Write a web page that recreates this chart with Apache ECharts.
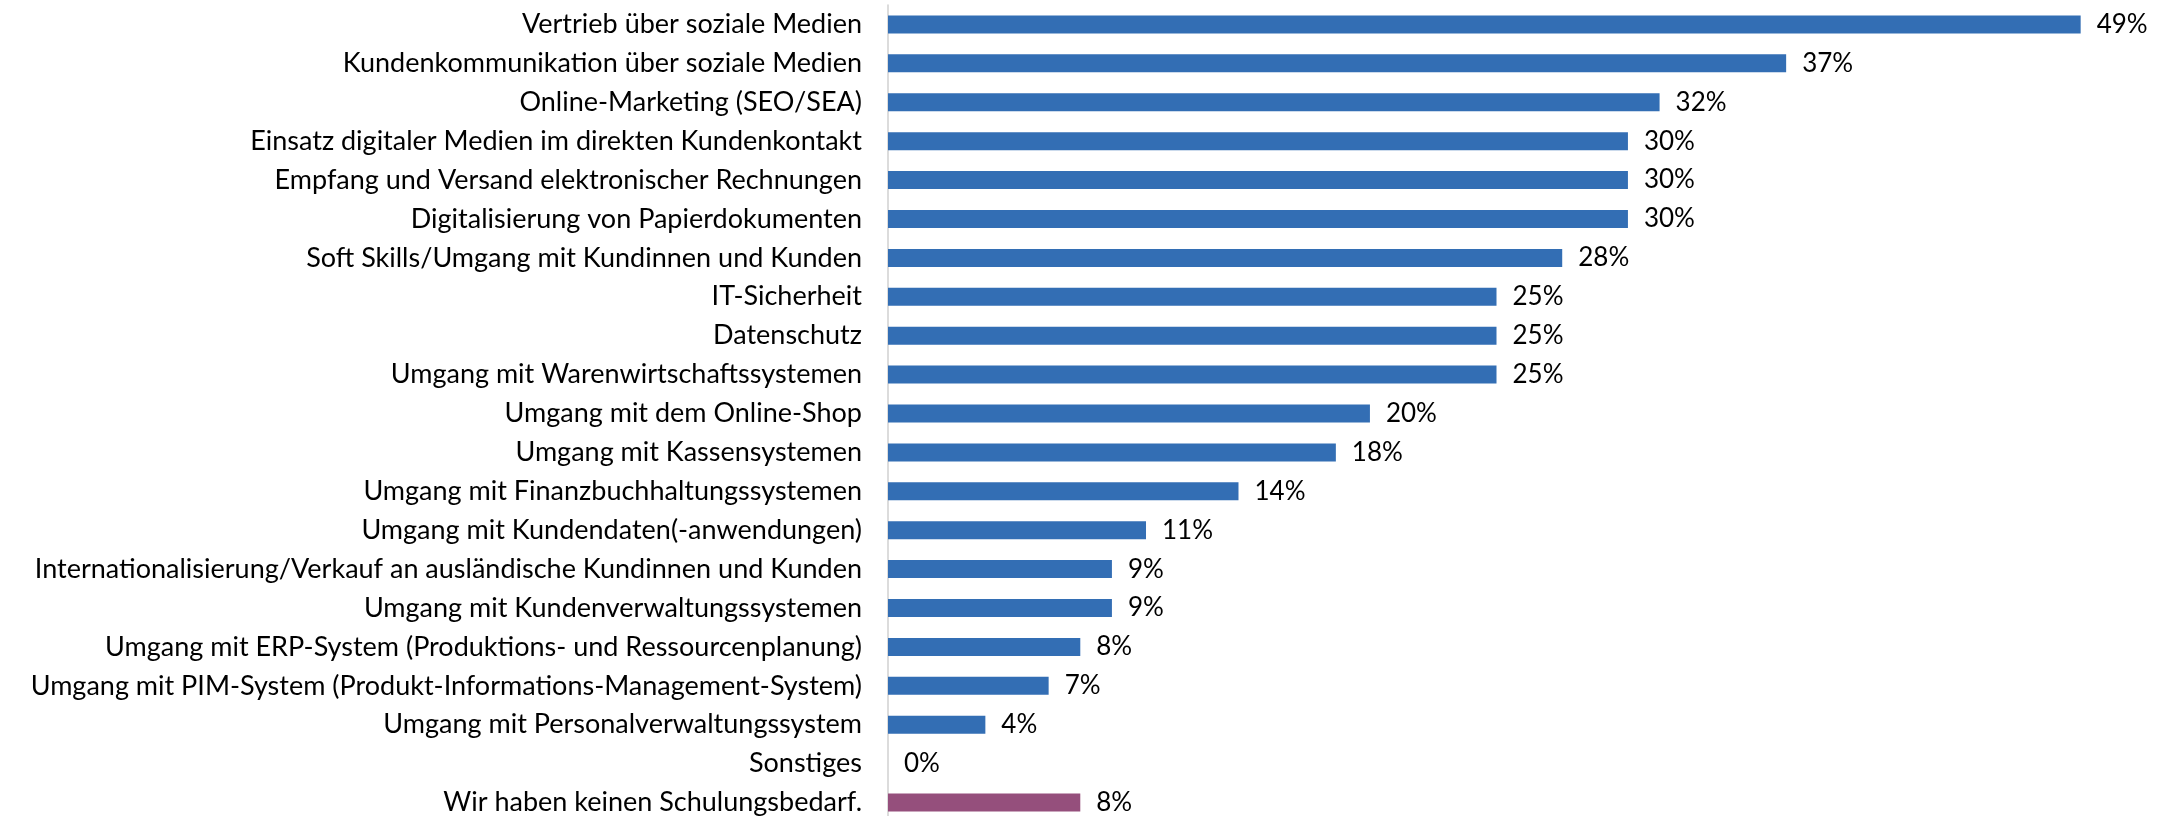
<!DOCTYPE html>
<html lang="de">
<head>
    <meta charset="UTF-8">
    <title>Schulungsbedarf</title>
    <script src="https://cdn.jsdelivr.net/npm/echarts@6/dist/echarts.min.js"></script>
    <style>
        html, body { margin: 0; padding: 0; background: #fff; }
        #main { width: 2159px; height: 816px; }
    </style>
</head>
<body>
    <div id="main"></div>
    <script>
        // Kategorien von oben nach unten
        var categories = [
            'Vertrieb über soziale Medien',
            'Kundenkommunikation über soziale Medien',
            'Online-Marketing (SEO/SEA)',
            'Einsatz digitaler Medien im direkten Kundenkontakt',
            'Empfang und Versand elektronischer Rechnungen',
            'Digitalisierung von Papierdokumenten',
            'Soft Skills/Umgang mit Kundinnen und Kunden',
            'IT-Sicherheit',
            'Datenschutz',
            'Umgang mit Warenwirtschaftssystemen',
            'Umgang mit dem Online-Shop',
            'Umgang mit Kassensystemen',
            'Umgang mit Finanzbuchhaltungssystemen',
            'Umgang mit Kundendaten(-anwendungen)',
            'Internationalisierung/Verkauf an ausländische Kundinnen und Kunden',
            'Umgang mit Kundenverwaltungssystemen',
            'Umgang mit ERP-System (Produktions- und Ressourcenplanung)',
            'Umgang mit PIM-System (Produkt-Informations-Management-System)',
            'Umgang mit Personalverwaltungssystem',
            'Sonstiges',
            'Wir haben keinen Schulungsbedarf.'
        ];
        // Anteile in %
        var values = [49.0, 36.9, 31.7, 30.4, 30.4, 30.4, 27.7, 25.0, 25.0, 25.0,
            19.8, 18.4, 14.4, 10.6, 9.2, 9.2, 7.9, 6.6, 4.0, 0, 7.9];
        // letzte Kategorie wird anders eingefärbt
        var highlightIndex = [20];

        var blue = '#336eb4';
        var purple = '#954f7c';

        var chart = echarts.init(document.getElementById('main'));

        var seriesData = values.map(function (v, i) {
            return {
                value: v,
                itemStyle: { color: highlightIndex.indexOf(i) >= 0 ? purple : blue }
            };
        });

        chart.setOption({
            animation: false,
            grid: {
                left: 888,
                right: 54,
                top: 5,
                height: 817,
                containLabel: false,
                outerBoundsMode: 'none'
            },
            xAxis: {
                type: 'value',
                min: 0,
                max: 50,
                show: false
            },
            yAxis: {
                type: 'category',
                inverse: true,
                data: categories,
                axisLine: { show: true, lineStyle: { color: '#d0d0d0', width: 1.5 } },
                axisTick: { show: false },
                axisLabel: {
                    margin: 26,
                    color: '#000',
                    fontFamily: 'Lato',
                    fontSize: 27,
                    interval: 0
                }
            },
            series: [{
                type: 'bar',
                data: seriesData,
                barWidth: 18,
                label: {
                    show: true,
                    position: 'right',
                    distance: 16,
                    color: '#000',
                    fontFamily: 'Lato',
                    fontSize: 26,
                    formatter: function (p) {
                        return Math.round(p.value) + '%';
                    }
                }
            }]
        });
    </script>
</body>
</html>
